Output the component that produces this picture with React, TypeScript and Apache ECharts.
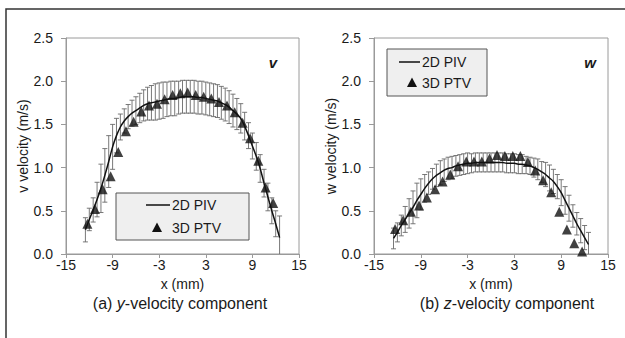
import React, { useEffect, useRef } from "react";
import * as echarts from "echarts";

const FONT = "'Liberation Sans', Arial, sans-serif";

// PIV grid positions (mm)
const pivX = [
  -12.5, -12, -11.5, -11, -10.5, -10, -9.5, -9, -8.5, -8, -7.5, -7, -6.5, -6, -5.5, -5, -4.5, -4, -3.5, -3, -2.5, -2, -1.5, -1, -0.5,
  0, 0.5, 1, 1.5, 2, 2.5, 3, 3.5, 4, 4.5, 5, 5.5, 6, 6.5, 7, 7.5, 8, 8.5, 9, 9.5, 10, 10.5, 11, 11.5, 12, 12.5,
];

// (a) v velocity, 2D PIV mean and error
const vPivMean = [
  0.28, 0.4, 0.51, 0.63, 0.76, 0.91, 1.07, 1.24, 1.37, 1.47, 1.54, 1.59, 1.63, 1.66, 1.69, 1.72, 1.74, 1.75, 1.76, 1.77, 1.78, 1.79, 1.8, 1.8, 1.81,
  1.82, 1.82, 1.82, 1.82, 1.81, 1.81, 1.8, 1.79, 1.78, 1.77, 1.75, 1.73, 1.7, 1.66, 1.62, 1.57, 1.48, 1.37, 1.25, 1.13, 0.99, 0.82, 0.66, 0.5, 0.35, 0.19,
];
const vPivErr = [
  0.14, 0.13, 0.14, 0.2, 0.28, 0.31, 0.3, 0.26, 0.2, 0.15, 0.14, 0.14, 0.15, 0.16, 0.17, 0.18, 0.19, 0.2, 0.21, 0.21, 0.21, 0.2, 0.2, 0.2, 0.19,
  0.19, 0.19, 0.19, 0.19, 0.19, 0.19, 0.19, 0.19, 0.19, 0.19, 0.19, 0.19, 0.19, 0.19, 0.18, 0.17, 0.16, 0.15, 0.15, 0.16, 0.16, 0.16, 0.16, 0.15, 0.15, 0.25,
];

// (a) v velocity, 3D PTV
const vPtvX = [
  -12.25, -11.27, -10.28, -9.25, -8.27, -7.28, -6.29, -5.3, -4.31, -3.28, -2.3, -1.27, -0.28, 0.67, 1.7, 2.73, 3.71, 4.7, 5.73, 6.72, 7.74, 8.7,
  9.76, 10.7, 11.68,
];
const vPtvY = [
  0.35, 0.52, 0.75, 0.9, 1.18, 1.42, 1.53, 1.65, 1.72, 1.74, 1.79, 1.84, 1.86, 1.87, 1.84, 1.82, 1.8, 1.76, 1.72, 1.64, 1.52, 1.34, 1.08, 0.77, 0.59,
];

// (b) w velocity, 2D PIV mean and error
const wPivMean = [
  0.18, 0.25, 0.33, 0.4, 0.47, 0.54, 0.62, 0.69, 0.76, 0.82, 0.87, 0.91, 0.94, 0.97, 0.99, 1.0, 1.02, 1.03, 1.04, 1.05, 1.05, 1.06, 1.06, 1.06, 1.06,
  1.06, 1.06, 1.06, 1.06, 1.05, 1.05, 1.05, 1.04, 1.04, 1.03, 1.02, 1.0, 0.98, 0.95, 0.92, 0.88, 0.84, 0.78, 0.71, 0.62, 0.53, 0.44, 0.35, 0.27, 0.19, 0.11,
];
const wPivErr = [
  0.12, 0.11, 0.12, 0.15, 0.17, 0.19, 0.2, 0.18, 0.16, 0.13, 0.12, 0.13, 0.14, 0.13, 0.13, 0.13, 0.12, 0.12, 0.12, 0.12, 0.11, 0.11, 0.11, 0.11, 0.11,
  0.11, 0.11, 0.11, 0.11, 0.11, 0.11, 0.11, 0.11, 0.11, 0.1, 0.1, 0.11, 0.12, 0.12, 0.14, 0.15, 0.14, 0.14, 0.15, 0.16, 0.15, 0.13, 0.13, 0.14, 0.14, 0.14,
];

// (b) w velocity, 3D PTV
const wPtvX = [
  -12.3, -11.26, -10.27, -9.22, -8.22, -7.17, -6.21, -5.22, -4.22, -3.17, -2.18, -1.18, -0.19, 0.77, 1.78, 2.8, 3.77, 4.73, 5.67, 6.68, 7.72, 8.75,
  9.73, 10.67, 11.68,
];
const wPtvY = [
  0.29, 0.39, 0.49, 0.56, 0.655, 0.75, 0.84, 0.92, 1.015, 1.07, 1.07, 1.07, 1.105, 1.145, 1.135, 1.135, 1.135, 1.065, 0.965, 0.855, 0.715, 0.49,
  0.285, 0.125, 0.03,
];

const xTicks = [-15, -9, -3, 3, 9, 15];
const legendNames = ["2D PIV", "3D PTV"];
const yNames = ["v velocity (m/s)", "w velocity (m/s)"];
const cornerLabels = ["v", "w"];

const TXT = "#1a1a1a";
const AXIS = "#9a9a9a";
const ERR = "#6a6a6a";

export default function App() {
  const ref = useRef<HTMLDivElement>(null);

  useEffect(() => {
    if (!ref.current) return;
    const chart = echarts.init(ref.current, undefined, { renderer: "svg" });

    const grids = [
      { left: 66, top: 38, width: 233, height: 216 },
      { left: 374, top: 38, width: 234, height: 216 },
    ];

    const errData = (means: number[], errs: number[]) =>
      pivX.map((x, i) => [x, means[i] - errs[i], means[i] + errs[i]]);
    const lineData = (means: number[]) => pivX.map((x, i) => [x, means[i]]);
    const ptData = (xs: number[], ys: number[]) => xs.map((x, i) => [x, ys[i]]);

    const errSeries = (idx: number, data: number[][]) => ({
      type: "custom",
      xAxisIndex: idx,
      yAxisIndex: idx,
      clip: true,
      z: 1,
      data,
      renderItem: (params: any, api: any) => {
        const x = api.value(0);
        const lo = api.value(1);
        const hi = api.value(2);
        const pHi = api.coord([x, hi]);
        const pLo = api.coord([x, lo]);
        const hw = 2.5;
        const st = { stroke: ERR, lineWidth: 0.9 };
        return {
          type: "group",
          children: [
            { type: "line", shape: { x1: pHi[0], y1: pHi[1], x2: pLo[0], y2: pLo[1] }, style: st },
            { type: "line", shape: { x1: pHi[0] - hw, y1: pHi[1], x2: pHi[0] + hw, y2: pHi[1] }, style: st },
            { type: "line", shape: { x1: pLo[0] - hw, y1: pLo[1], x2: pLo[0] + hw, y2: pLo[1] }, style: st },
          ],
        };
      },
    });

    const xAxis = (idx: number) => ({
      gridIndex: idx,
      type: "value",
      min: -15,
      max: 15,
      interval: 3,
      name: "x (mm)",
      nameLocation: "middle",
      nameGap: 10,
      nameTextStyle: { color: TXT, fontSize: 14, fontFamily: FONT },
      axisLine: { onZero: false, lineStyle: { color: AXIS, width: 1 } },
      axisTick: { show: true, customValues: xTicks, length: 4, lineStyle: { color: AXIS } },
      axisLabel: { customValues: xTicks, color: TXT, fontSize: 14, fontFamily: FONT, margin: 4 },
      splitLine: { show: false },
    });

    const yAxis = (idx: number) => ({
      gridIndex: idx,
      type: "value",
      min: 0,
      max: 2.5,
      interval: 0.5,
      name: yNames[idx],
      nameLocation: "middle",
      nameGap: idx === 0 ? 30 : 33,
      nameTextStyle: { color: TXT, fontSize: 14, fontFamily: FONT },
      axisLine: { show: true, onZero: false, lineStyle: { color: AXIS, width: 1 } },
      axisTick: { show: true, length: 5, lineStyle: { color: AXIS } },
      axisLabel: {
        color: TXT,
        fontSize: 14,
        fontFamily: FONT,
        margin: 13,
        formatter: (v: number) => v.toFixed(1),
      },
      splitLine: { show: false },
    });

    const legendGraphic = (bx: number, by: number, bw: number, bh: number, lx1: number, lx2: number, tx: number, r1: number, r2: number, triX: number) => [
      {
        type: "rect",
        shape: { x: bx, y: by, width: bw, height: bh },
        style: { fill: "#efefef", stroke: "#555", lineWidth: 1 },
        z: 10,
      },
      {
        type: "line",
        shape: { x1: lx1, y1: r1, x2: lx2, y2: r1 },
        style: { stroke: "#111", lineWidth: 1.5 },
        z: 11,
      },
      {
        type: "text",
        x: tx,
        y: r1,
        style: { text: legendNames[0], fill: TXT, font: `14px ${FONT}`, verticalAlign: "middle" },
        z: 11,
      },
      {
        type: "polygon",
        shape: { points: [[triX, r2 - 5.5], [triX - 5, r2 + 4], [triX + 5, r2 + 4]] },
        style: { fill: "#111" },
        z: 11,
      },
      {
        type: "text",
        x: tx,
        y: r2,
        style: { text: legendNames[1], fill: TXT, font: `14px ${FONT}`, verticalAlign: "middle" },
        z: 11,
      },
    ];

    const caption = (cx: number, letter: string, axisLetter: string) => ({
      type: "text",
      x: cx,
      y: 303,
      style: {
        text: `(${letter}) {i|${axisLetter}}-velocity component`,
        fill: TXT,
        font: `16px ${FONT}`,
        align: "center",
        verticalAlign: "middle",
        rich: { i: { fontStyle: "italic", fontSize: 16, fontFamily: FONT, fill: TXT } },
      },
    });

    chart.setOption({
      animation: false,
      backgroundColor: "#ffffff",
      grid: grids.map((g) => ({ ...g, show: true, borderColor: AXIS, borderWidth: 1, backgroundColor: "transparent", containLabel: false })),
      xAxis: [xAxis(0), xAxis(1)],
      yAxis: [yAxis(0), yAxis(1)],
      series: [
        errSeries(0, errData(vPivMean, vPivErr)),
        {
          type: "line",
          name: legendNames[0],
          xAxisIndex: 0,
          yAxisIndex: 0,
          data: lineData(vPivMean),
          showSymbol: false,
          symbol: "none",
          smooth: 0.3,
          lineStyle: { color: "#111", width: 1.5 },
          z: 2,
        },
        {
          type: "scatter",
          name: legendNames[1],
          xAxisIndex: 0,
          yAxisIndex: 0,
          data: ptData(vPtvX, vPtvY),
          symbol: "triangle",
          symbolSize: 10,
          itemStyle: { color: "#111" },
          z: 3,
        },
        errSeries(1, errData(wPivMean, wPivErr)),
        {
          type: "line",
          name: legendNames[0],
          xAxisIndex: 1,
          yAxisIndex: 1,
          data: lineData(wPivMean),
          showSymbol: false,
          symbol: "none",
          smooth: 0.3,
          lineStyle: { color: "#111", width: 1.5 },
          z: 2,
        },
        {
          type: "scatter",
          name: legendNames[1],
          xAxisIndex: 1,
          yAxisIndex: 1,
          data: ptData(wPtvX, wPtvY),
          symbol: "triangle",
          symbolSize: 10,
          itemStyle: { color: "#111" },
          z: 3,
        },
      ],
      graphic: [
        {
          type: "rect",
          shape: { x: 6, y: 9, width: 640, height: 360 },
          style: { fill: "none", stroke: "#333", lineWidth: 1.5 },
          silent: true,
        },
        ...legendGraphic(116, 193, 133, 47, 146, 170, 172, 205, 228, 157),
        ...legendGraphic(387, 49, 100, 47, 399, 420, 422, 62, 83, 412),
        {
          type: "text",
          x: 273,
          y: 62,
          style: { text: cornerLabels[0], fill: TXT, font: `italic bold 15px ${FONT}`, align: "center", verticalAlign: "middle" },
        },
        {
          type: "text",
          x: 590,
          y: 62,
          style: { text: cornerLabels[1], fill: TXT, font: `italic bold 15px ${FONT}`, align: "center", verticalAlign: "middle" },
        },
        caption(180, "a", "y"),
        caption(507, "b", "z"),
      ],
    });

    return () => chart.dispose();
  }, []);

  return <div ref={ref} style={{ position: "fixed", left: 0, top: 0, width: 625, height: 338 }} />;
}
